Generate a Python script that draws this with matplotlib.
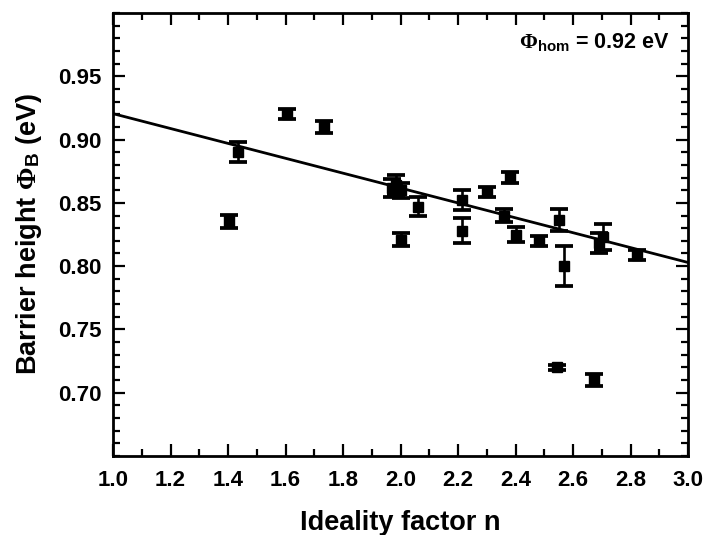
import matplotlib
matplotlib.use("Agg")
import matplotlib.pyplot as plt
import numpy as np
from matplotlib.ticker import MultipleLocator

# ---- data ----
ideality_n = [1.405, 1.434, 1.604, 1.734, 1.970, 1.985, 2.000, 2.000, 2.062,
              2.213, 2.213, 2.302, 2.360, 2.381, 2.400, 2.480, 2.543, 2.552,
              2.570, 2.673, 2.690, 2.703, 2.824]
barrier_phi = [0.8355, 0.890, 0.920, 0.910, 0.862, 0.864, 0.860, 0.821, 0.847,
               0.852, 0.828, 0.8585, 0.840, 0.870, 0.825, 0.820, 0.720, 0.8365,
               0.800, 0.710, 0.818, 0.823, 0.809]
phi_err = [0.005, 0.008, 0.004, 0.005, 0.007, 0.008, 0.006, 0.005, 0.0075,
           0.008, 0.010, 0.004, 0.005, 0.004, 0.006, 0.004, 0.002, 0.009,
           0.016, 0.005, 0.008, 0.010, 0.004]
fit_n_range = [1.0, 3.0]
fit_intercept = 0.9205   # value at n = 1
fit_slope = -0.0588

x_ticks = [1.0, 1.2, 1.4, 1.6, 1.8, 2.0, 2.2, 2.4, 2.6, 2.8, 3.0]
y_ticks = [0.70, 0.75, 0.80, 0.85, 0.90, 0.95]

# ---- style ----
plt.rcParams['font.family'] = ['Liberation Sans', 'DejaVu Sans']
plt.rcParams['font.weight'] = 'bold'
plt.rcParams['mathtext.fontset'] = 'custom'
plt.rcParams['mathtext.rm'] = 'Liberation Serif'
plt.rcParams['mathtext.it'] = 'Liberation Serif:italic'
plt.rcParams['mathtext.bf'] = 'Liberation Sans:bold'
plt.rcParams['mathtext.sf'] = 'Liberation Sans:bold'

fig = plt.figure(figsize=(7.08, 5.35), dpi=100)
ax = fig.add_axes([113/708, 1-456/535, (688-113)/708, (456-13)/535])

ax.errorbar(ideality_n, barrier_phi, yerr=phi_err, fmt='s', color='black',
            ms=7, ecolor='black', elinewidth=1.9, capsize=6.5, capthick=2.7,
            zorder=3)

fx = np.array(fit_n_range)
ax.plot(fx, fit_intercept + fit_slope * (fx - 1.0), color='black', lw=2.0, zorder=2)

ax.set_xlim(1.0, 3.0)
ax.set_ylim(0.65, 1.00)
ax.set_xticks(x_ticks)
ax.set_yticks(y_ticks)
ax.set_xticklabels([f"{v:.1f}" for v in x_ticks])
ax.set_yticklabels([f"{v:.2f}" for v in y_ticks])
ax.xaxis.set_minor_locator(MultipleLocator(0.1))
ax.yaxis.set_minor_locator(MultipleLocator(0.01))

ax.tick_params(which='both', direction='in', top=True, right=True, width=1.6)
ax.tick_params(which='major', length=8.5, labelsize=16)
ax.tick_params(which='minor', length=5)
ax.tick_params(axis='x', which='major', pad=10)
ax.tick_params(axis='y', which='major', pad=8)
for sp in ax.spines.values():
    sp.set_linewidth(2.0)

ax.set_xlabel('Ideality factor n', fontsize=19.5, fontweight='bold', labelpad=14)
ax.set_ylabel(r'Barrier height $\mathrm{\Phi}_{\mathbf{B}}$ (eV)', fontsize=19.5,
              fontweight='bold', labelpad=10)

ax.text(0.9687, 0.921, r'$\mathrm{\Phi}_{\mathbf{hom}}$ = 0.92 eV', transform=ax.transAxes,
        ha='right', va='baseline', fontsize=15.5, fontweight='bold')

fig.savefig('out.png', dpi=100)
